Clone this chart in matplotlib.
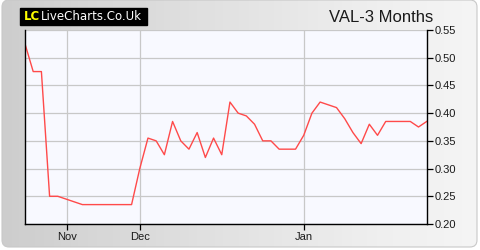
import numpy as np
import matplotlib.pyplot as plt
from matplotlib.patches import FancyBboxPatch

# closing prices, one per trading day
prices = [0.525, 0.475, 0.475, 0.25, 0.25, 0.245, 0.24, 0.235, 0.235, 0.235,
          0.235, 0.235, 0.235, 0.235, 0.30, 0.355, 0.35, 0.325, 0.385, 0.35,
          0.335, 0.365, 0.32, 0.355, 0.325, 0.42, 0.40, 0.395, 0.38, 0.35,
          0.35, 0.335, 0.335, 0.335, 0.36, 0.40, 0.42, 0.415, 0.41, 0.39,
          0.365, 0.345, 0.38, 0.36, 0.385, 0.385, 0.385, 0.385, 0.375, 0.385]
month_labels = ['Nov', 'Dec', 'Jan']
month_pos = [5.1, 14, 34]
yticks = [0.20, 0.25, 0.30, 0.35, 0.40, 0.45, 0.50, 0.55]

plt.rcParams['font.family'] = ['Liberation Sans', 'DejaVu Sans']

fig = plt.figure(figsize=(4.8, 2.5), dpi=100)
fig.patch.set_facecolor('white')

# rounded grey panel with a soft horizontal gradient
bg = fig.add_axes([0, 0, 1, 1])
bg.set_xlim(0, 480)
bg.set_ylim(250, 0)
bg.axis('off')
panel = FancyBboxPatch((2, 0), 475, 247, boxstyle='round,pad=0,rounding_size=7',
                       facecolor='none', edgecolor='#c8c8c8', lw=0.8)
bg.add_patch(panel)
grad = np.linspace(0, 1, 256).reshape(1, -1)
img = bg.imshow(grad, extent=(2, 477, 247, 0), aspect='auto', cmap='Greys_r',
                vmin=-3.2, vmax=1.4)
img.set_clip_path(panel)

# logo
bg.add_patch(plt.Rectangle((20, 8), 127, 17, color='black'))
bg.text(24, 16.5, 'LC', color='#ffff00', fontsize=8.5, fontweight='bold',
        va='center', family='DejaVu Sans')
bg.text(40.5, 16.5, 'LiveCharts.Co.Uk', color='white', fontsize=8.5,
        va='center', family='DejaVu Sans')
bg.text(433, 17, 'VAL-3 Months', color='#1a1a1a', fontsize=12,
        ha='right', va='center')

ax = fig.add_axes([25 / 480, 26 / 250, 401.7 / 480, 194 / 250])
ax.set_facecolor('#f8f9ff')
x = np.arange(len(prices))
ax.plot(x, prices, color='#ff4a4a', lw=1.0)

ax.set_xlim(0, len(prices) - 1)
ax.set_ylim(0.20, 0.55)
ax.set_yticks(yticks)
ax.set_yticklabels(['%.2f' % v for v in yticks])
ax.set_xticks(month_pos)
ax.set_xticklabels(month_labels)
ax.yaxis.tick_right()
ax.grid(True, color='#c8c8c8', lw=0.9)
ax.tick_params(axis='both', direction='out', length=4, width=0.9,
               labelsize=8, colors='black', labelcolor='#1a1a1a', pad=2)
ax.spines['top'].set_visible(False)
for s in ['left', 'right', 'bottom']:
    ax.spines[s].set_linewidth(1.0)

fig.savefig('out.png', dpi=100)
